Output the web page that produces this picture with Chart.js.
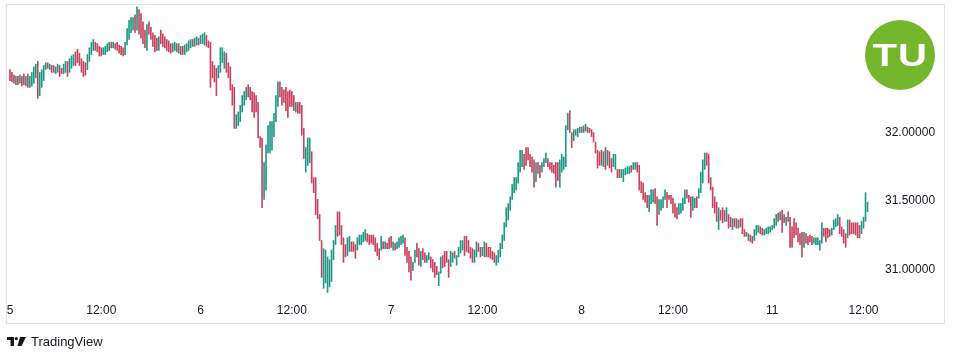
<!DOCTYPE html>
<html>
<head>
<meta charset="utf-8">
<script src="https://cdn.jsdelivr.net/npm/chart.js@4.4.1/dist/chart.umd.min.js"></script>
<style>
  html, body { margin: 0; padding: 0; background: #ffffff; }
  #wrap { position: relative; width: 955px; height: 359px; overflow: hidden; }
  #c { position: absolute; left: 0; top: 0; }
  #logo { position: absolute; left: 865px; top: 20px; width: 70px; height: 70px; border-radius: 50%;
          background: #74b72c; display: flex; align-items: center; justify-content: center; }
  #logo span { color: #ffffff; font: bold 32px "Liberation Sans", Arial, sans-serif; transform: scaleX(1.25);
               letter-spacing: 1px; line-height: 1; }
  #tv { position: absolute; left: 7px; top: 333px; height: 16px; display: flex; align-items: center;
        font: 13px "Liberation Sans", Arial, sans-serif; color: #131722; }
  #tv svg { margin-right: 5px; }
</style>
</head>
<body>
<div id="wrap">
  <canvas id="c" width="955" height="359"></canvas>
  <div id="logo"><span>TU</span></div>
  <div id="tv">
    <svg width="19" height="9" viewBox="0 0 19 9"><path d="M0 0H7V9H3.5V3H0Z" fill="#131722"/><circle cx="9.3" cy="1.6" r="1.6" fill="#131722"/><path d="M13 0H19L14.5 9H10.5Z" fill="#131722"/></svg>
    <span>TradingView</span>
  </div>
</div>
<script>
// 15-minute bars, day 5 to day 11 (index 0 .. 432)
const highs = [
32.46,32.44,32.42,32.41,32.41,32.42,32.41,32.43,32.41,32.43,
32.41,32.44,32.48,32.50,32.52,32.44,32.46,32.49,32.51,32.51,
32.50,32.49,32.49,32.48,32.50,32.49,32.47,32.50,32.52,32.52,
32.54,32.56,32.57,32.59,32.61,32.58,32.54,32.52,32.51,32.57,
32.62,32.66,32.68,32.66,32.65,32.63,32.62,32.62,32.63,32.65,
32.66,32.66,32.66,32.65,32.66,32.64,32.63,32.62,32.66,32.76,
32.82,32.84,32.84,32.86,32.92,32.90,32.87,32.81,32.75,32.79,
32.81,32.77,32.73,32.71,32.69,32.70,32.75,32.72,32.70,32.68,
32.67,32.65,32.65,32.66,32.65,32.65,32.63,32.63,32.64,32.65,
32.67,32.68,32.68,32.69,32.70,32.69,32.71,32.72,32.73,32.71,
32.67,32.66,32.52,32.49,32.47,32.49,32.62,32.62,32.59,32.58,
32.51,32.48,32.35,32.33,32.13,32.15,32.20,32.27,32.30,32.33,
32.35,32.33,32.30,32.29,32.27,32.22,31.97,31.96,31.78,31.91,
32.05,32.08,32.08,32.14,32.27,32.37,32.37,32.33,32.31,32.33,
32.30,32.31,32.30,32.27,32.22,32.22,32.22,32.20,32.03,31.89,
31.96,31.96,31.86,31.67,31.67,31.51,31.40,31.21,31.15,31.14,
31.09,31.07,31.14,31.21,31.32,31.42,31.42,31.32,31.23,31.18,
31.23,31.24,31.20,31.20,31.18,31.23,31.25,31.25,31.27,31.29,
31.26,31.25,31.25,31.25,31.23,31.19,31.15,31.24,31.20,31.20,
31.19,31.23,31.24,31.20,31.19,31.20,31.23,31.24,31.25,31.23,
31.16,31.13,31.09,31.05,31.14,31.19,31.15,31.13,31.15,31.12,
31.10,31.12,31.09,31.07,31.05,31.02,30.98,31.09,31.10,31.13,
31.13,31.07,31.13,31.12,31.13,31.10,31.16,31.21,31.21,31.24,
31.24,31.21,31.16,31.15,31.14,31.20,31.19,31.16,31.16,31.20,
31.19,31.16,31.16,31.13,31.12,31.10,31.14,31.19,31.25,31.34,
31.45,31.48,31.53,31.62,31.67,31.67,31.78,31.87,31.87,31.84,
31.89,31.89,31.84,31.82,31.80,31.78,31.78,31.76,31.78,31.81,
31.85,31.81,31.78,31.78,31.76,31.78,31.78,31.80,31.84,31.82,
32.05,32.14,32.16,32.00,32.02,32.02,32.03,32.04,32.04,32.05,
32.06,32.04,32.03,32.02,32.00,31.93,31.87,31.86,31.87,31.86,
31.89,31.87,31.86,31.81,31.84,31.84,31.73,31.73,31.73,31.73,
31.74,31.75,31.75,31.76,31.78,31.78,31.78,31.76,31.64,31.63,
31.56,31.54,31.54,31.58,31.58,31.59,31.53,31.51,31.51,31.53,
31.58,31.56,31.54,31.54,31.52,31.48,31.45,31.48,31.48,31.52,
31.58,31.58,31.54,31.53,31.53,31.52,31.53,31.59,31.71,31.80,
31.85,31.85,31.84,31.67,31.60,31.53,31.49,31.45,31.43,31.45,
31.43,31.45,31.40,31.38,31.37,31.37,31.37,31.36,31.37,31.37,
31.29,31.27,31.26,31.25,31.24,31.29,31.32,31.32,31.31,31.30,
31.29,31.30,31.31,31.31,31.32,31.37,31.40,31.41,31.42,31.43,
31.40,31.38,31.42,31.38,31.31,31.37,31.34,31.30,31.26,31.27,
31.27,31.26,31.24,31.25,31.24,31.23,31.23,31.23,31.21,31.34,
31.30,31.30,31.30,31.29,31.30,31.36,31.37,31.40,31.38,31.31,
31.29,31.26,31.36,31.36,31.34,31.34,31.34,31.34,31.32,31.35,
31.38,31.56,31.49
];
const lows = [
32.38,32.37,32.36,32.35,32.35,32.36,32.34,32.35,32.34,32.33,
32.33,32.34,32.36,32.40,32.25,32.27,32.33,32.38,32.46,32.47,
32.46,32.44,32.44,32.43,32.44,32.41,32.43,32.43,32.44,32.41,
32.44,32.47,32.49,32.49,32.51,32.49,32.44,32.41,32.42,32.46,
32.52,32.57,32.60,32.60,32.59,32.56,32.56,32.57,32.57,32.59,
32.60,32.62,32.62,32.61,32.60,32.58,32.57,32.56,32.57,32.64,
32.68,32.73,32.75,32.73,32.75,32.72,32.69,32.65,32.62,32.60,
32.72,32.68,32.63,32.59,32.60,32.60,32.65,32.63,32.62,32.60,
32.59,32.58,32.59,32.60,32.59,32.58,32.57,32.57,32.57,32.59,
32.60,32.62,32.63,32.63,32.64,32.64,32.65,32.65,32.64,32.63,
32.62,32.33,32.40,32.37,32.27,32.40,32.44,32.51,32.47,32.44,
32.40,32.31,32.20,32.03,32.03,32.05,32.08,32.15,32.20,32.24,
32.26,32.24,32.15,32.11,32.15,31.96,31.89,31.45,31.51,31.58,
31.85,31.85,31.87,31.97,32.08,32.19,32.26,32.20,32.22,32.16,
32.11,32.19,32.19,32.16,32.15,32.14,32.14,31.98,31.81,31.71,
31.76,31.78,31.63,31.56,31.40,31.37,31.21,30.94,30.86,30.90,
30.83,30.87,30.91,31.07,31.18,31.24,31.25,31.18,31.05,31.09,
31.10,31.13,31.13,31.13,31.08,31.14,31.18,31.18,31.20,31.21,
31.20,31.18,31.19,31.18,31.13,31.10,31.07,31.14,31.15,31.15,
31.15,31.15,31.16,31.14,31.14,31.15,31.16,31.18,31.19,31.10,
31.05,30.98,30.92,30.99,31.05,31.09,31.03,31.02,31.07,31.05,
31.05,31.07,31.01,30.98,30.94,30.96,30.88,30.97,31.01,31.02,
31.05,30.94,31.02,31.05,31.08,31.03,31.09,31.12,31.14,31.10,
31.13,31.12,31.08,31.05,31.05,31.09,31.13,31.09,31.10,31.09,
31.09,31.09,31.08,31.07,31.05,31.03,31.05,31.09,31.15,31.21,
31.31,31.36,31.43,31.51,31.56,31.58,31.63,31.71,31.75,31.73,
31.76,31.80,31.75,31.71,31.60,31.64,31.70,31.67,31.71,31.75,
31.78,31.75,31.73,31.71,31.70,31.60,31.65,31.60,31.71,31.73,
31.75,32.02,32.00,31.89,31.94,31.98,31.97,32.00,32.00,32.00,
32.01,32.00,32.00,31.97,31.93,31.85,31.74,31.76,31.76,31.75,
31.73,31.76,31.74,31.71,31.75,31.73,31.67,31.67,31.67,31.64,
31.69,31.70,31.70,31.71,31.73,31.73,31.71,31.58,31.56,31.51,
31.49,31.45,31.42,31.48,31.49,31.48,31.32,31.40,31.43,31.45,
31.51,31.45,31.51,31.48,31.41,31.38,31.37,31.40,31.41,31.43,
31.48,31.52,31.49,31.38,31.43,31.45,31.45,31.52,31.56,31.63,
31.73,31.76,31.63,31.58,31.45,31.41,31.35,31.29,31.36,31.34,
31.35,31.35,31.30,31.31,31.29,31.31,31.30,31.30,31.31,31.26,
31.24,31.24,31.21,31.20,31.19,31.21,31.25,31.27,31.26,31.25,
31.25,31.26,31.26,31.27,31.29,31.30,31.32,31.35,31.36,31.27,
31.34,31.32,31.35,31.16,31.16,31.23,31.25,31.20,31.18,31.09,
31.16,31.19,31.18,31.20,31.18,31.19,31.18,31.18,31.14,31.19,
31.24,31.20,31.23,31.24,31.25,31.29,31.31,31.32,31.26,31.24,
31.19,31.16,31.23,31.25,31.26,31.26,31.25,31.23,31.23,31.26,
31.30,31.35,31.42
];
// bar colour: g = up (green), r = down (red)
const directions = (
'rrrgrgrrgr ggggrggggr grrggrrggr gggrrrrrrg gggrrrrggg grgrrrrrgg gggrgrrrrg rrrrrgrrrr rrggrgrrgg ggrggrgggr ' +
'rrrrrggggr rrrrgggggg rrrrrrrrgg ggggggrrrr rrrrgrrrrg ggrrrrrrgg gggggrrrrr ggrrrggggg rrrrrrrgrg rrrgrggggr ' +
'rrrggrrgrr ggrrrrggrr rrggrggggr rrrrggrrgg rrrrrggggg gggggggggr rrrrrgrrgg grrrrrrggg ggrrggggrg grrrrrrrrg ' +
'rgrrggrrgg gggrggrrrr rrgggrrggg grrrrrrggg grrrggrggg grrrrrrgrr rgrrgrrgrr rrgrrgggrr gggggggrgr rgrrrrrrrr ' +
'grrrrggggg rrrrggggrr rrgrrrrrrg ggg').replace(/ /g, '').split('');
// time-axis ticks (bar index) and their labels
const tickIndex = [0, 46, 96, 142, 192, 238, 288, 334, 384, 430];
const tickLabels = ['5', '12:00', '6', '12:00', '7', '12:00', '8', '12:00', '11', '12:00'];
// price-axis ticks
const priceTicks = [31.0, 31.5, 32.0];

const UP = '#1f9a87';
const DOWN = '#c9445f';
const FONT = '"Liberation Sans", Arial, sans-serif';

const points = highs.map((h, i) => ({ x: i, y: [lows[i], h] }));

const framePlugin = {
  id: 'frame',
  afterDraw(chart) {
    const ctx = chart.ctx;
    ctx.save();
    ctx.strokeStyle = '#e0e3e8';
    ctx.lineWidth = 1;
    ctx.strokeRect(6.5, 4.5, 938, 319);
    ctx.restore();
  }
};

new Chart(document.getElementById('c').getContext('2d'), {
  type: 'bar',
  data: {
    datasets: [{
      data: points,
      backgroundColor: directions.map(d => d === 'g' ? UP : DOWN),
      borderWidth: 0,
      barThickness: 1,
      grouped: false
    }]
  },
  options: {
    responsive: false,
    animation: false,
    layout: { padding: { left: 7, right: 10, top: 5, bottom: 0 } },
    plugins: { legend: { display: false }, tooltip: { enabled: false } },
    scales: {
      x: {
        type: 'linear',
        min: -1.5,
        max: 438.3,
        offset: false,
        grid: { display: false, drawTicks: false },
        border: { display: false },
        afterBuildTicks: s => { s.ticks = tickIndex.map(v => ({ value: v })); },
        afterFit: s => { s.height = 63; s.paddingLeft = 0; s.paddingRight = 0; },
        ticks: {
          autoSkip: false, maxRotation: 0, padding: 7, color: '#131722',
          font: { family: FONT, size: 12 },
          callback: v => { const k = tickIndex.indexOf(v); return k >= 0 ? tickLabels[k] : ''; }
        }
      },
      y: {
        position: 'right',
        min: 30.804,
        max: 32.9327,
        grid: { display: false, drawTicks: false },
        border: { display: false },
        afterBuildTicks: s => { s.ticks = priceTicks.map(v => ({ value: v })); },
        afterFit: s => { s.width = 65; s.paddingTop = 0; s.paddingBottom = 0; },
        ticks: {
          padding: 5, color: '#131722',
          font: { family: FONT, size: 12 },
          callback: v => Number(v).toFixed(5)
        }
      }
    }
  },
  plugins: [framePlugin]
});
</script>
</body>
</html>
